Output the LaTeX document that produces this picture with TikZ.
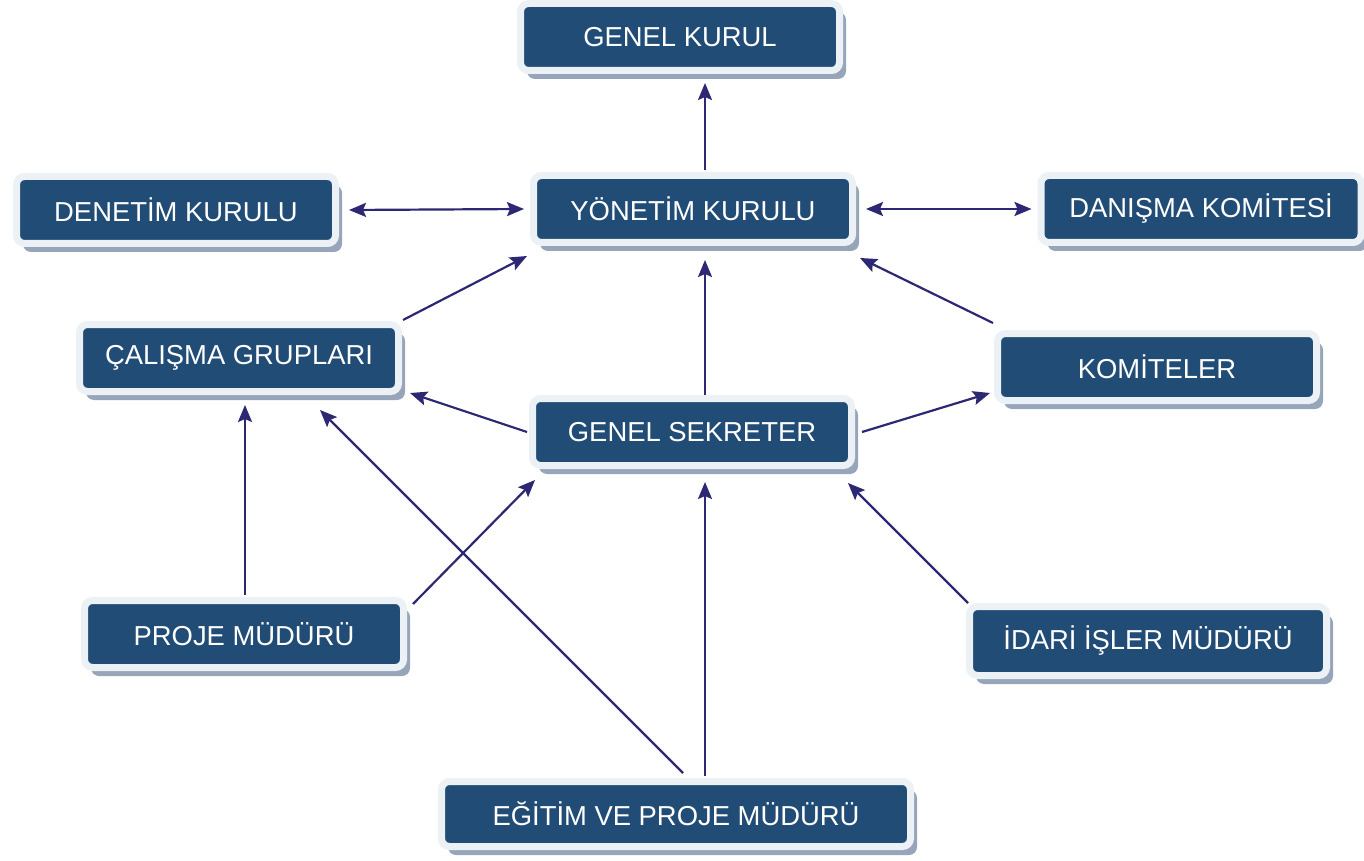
\documentclass[tikz,border=0pt]{standalone}
\usepackage{fontspec}
\setmainfont{Liberation Sans}
\usetikzlibrary{arrows.meta,calc,shadows}
\definecolor{boxblue}{RGB}{33,76,118}
\definecolor{boxframe}{RGB}{236,241,246}
\definecolor{boxshadow}{RGB}{150,165,186}
\definecolor{linkblue}{RGB}{45,40,115}

\begin{document}
\begin{tikzpicture}[x=0.5pt,y=-0.5pt,
    >={Stealth[length=8.5pt,width=7pt,inset=1.5pt]},
    every node/.style = {shape=rectangle, rounded corners=4pt,
      fill=boxblue, draw=boxframe, line width=3.5pt,
      text=white, font=\fontsize{13.7}{16}\selectfont,
      minimum width=159.5pt, minimum height=33.5pt, inner sep=0pt,
      drop shadow={shadow xshift=3.25pt, shadow yshift=-4.25pt,
        fill=boxshadow, opacity=1}},
    link/.style = {draw=linkblue, line width=1.1pt, ->},
    twoway/.style = {link, <->}]
  \useasboundingbox (0,0) rectangle (1364,861);

  \node (gk)  at (680,37)   {GENEL KURUL};
  \node (dk)  at (176,210)  {DENETİM KURULU};
  \node (yk)  at (693,209)  {YÖNETİM KURULU};
  \node (dko) at (1201,209) [minimum width=160pt] {DANIŞMA KOMİTESİ};
  \node (cg)  at (239,358)  {ÇALIŞMA GRUPLARI};
  \node (kom) at (1157,367) {KOMİTELER};
  \node (gs)  at (692,432)  {GENEL SEKRETER};
  \node (pm)  at (244,634)  {PROJE MÜDÜRÜ};
  \node (im)  at (1148,641) [minimum width=178.5pt, minimum height=34.5pt] {İDARİ İŞLER MÜDÜRÜ};
  \node (ep)  at (676,814)  [minimum width=234.5pt, minimum height=32.5pt] {EĞİTİM VE PROJE MÜDÜRÜ};

  \draw[link] ($(yk)+(12,-39)$) -- ($(gk)+(25,46)$);
  \draw[twoway] ([xshift=5pt]dk.east) -- ([xshift=-3pt]yk.west);
  \draw[twoway] ([xshift=5pt]yk.east) -- ([xshift=-3pt]dko.west);
  \draw[link] ($(cg)+(164,-38)$) -- ($(yk)+(-166,47)$);
  \draw[link] ($(gs)+(13,-37)$) -- ($(yk)+(12,51)$);
  \draw[link] ($(kom)+(-164,-44)$) -- ($(yk)+(167,49)$);
  \draw[link] ($(gs)+(-165,0)$) -- ($(cg)+(171,35)$);
  \draw[link] ($(gs)+(170,0)$) -- ($(kom)+(-167,26)$);
  \draw[link] ($(pm)+(1,-39)$) -- ($(cg)+(6,47)$);
  \draw[link] ($(pm)+(169,-30)$) -- ($(gs)+(-157,48)$);
  \draw[link] ($(ep)+(7,-41)$) -- ($(cg)+(81,52)$);
  \draw[link] ($(ep)+(29,-38)$) -- ($(gs)+(13,50)$);
  \draw[link] ($(im)+(-180,-38)$) -- ($(gs)+(156,51)$);
\end{tikzpicture}
\end{document}
